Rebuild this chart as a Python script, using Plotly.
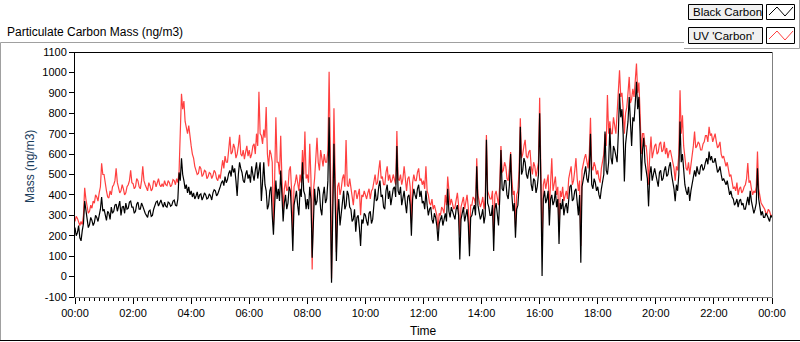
import plotly.graph_objects as go
import pandas as pd

# ---------------- data (2.5-minute readings, 00:00 .. 24:00) ----------------
START = "2000-01-01 00:00"
STEP = "150s"

BLACK_CARBON = [
    240, 200, 215, 250, 190, 175, 225, 260, 370, 330, 300, 240, 255, 290, 275, 250, 265, 300, 290, 270, 300, 330, 390, 320,
    330, 290, 275, 320, 310, 280, 340, 310, 320, 350, 355, 320, 340, 370, 300, 340, 345, 310, 360, 330, 335, 365, 370, 340,
    340, 310, 320, 355, 365, 330, 330, 360, 345, 320, 310, 300, 290, 320, 325, 295, 300, 330, 345, 365, 370, 345, 360, 375,
    355, 340, 365, 345, 340, 365, 360, 345, 350, 370, 375, 350, 345, 380, 510, 470, 580, 500, 470, 430, 450, 410, 440, 400,
    420, 390, 410, 380, 395, 415, 380, 400, 405, 375, 390, 410, 400, 380, 385, 405, 395, 375, 410, 425, 420, 395, 405, 430,
    440, 460, 470, 445, 490, 460, 475, 505, 520, 490, 545, 510, 530, 470, 395, 500, 560, 530, 510, 470, 460, 500, 520, 480,
    500, 460, 540, 500, 470, 520, 560, 480, 520, 560, 370, 480, 560, 450, 420, 330, 350, 420, 440, 300, 205, 350, 470, 380,
    430, 370, 520, 400, 270, 360, 400, 330, 360, 440, 420, 300, 125, 350, 380, 420, 350, 300, 430, 390, 560, 420, 400, 330,
    380, 330, 440, 380, 92, 300, 430, 350, 370, 440, 420, 330, 300, 400, 440, 360, 380, 470, 780, 400, -30, 300, 650, 380,
    76, 300, 380, 250, 300, 380, 420, 330, 350, 420, 400, 340, 330, 270, 280, 330, 220, 290, 300, 240, 150, 280, 260, 310,
    300, 270, 250, 310, 320, 260, 280, 350, 430, 370, 380, 440, 470, 390, 400, 340, 330, 420, 450, 380, 420, 350, 390, 430,
    440, 390, 640, 420, 400, 440, 350, 400, 420, 360, 310, 390, 400, 350, 200, 380, 430, 400, 380, 430, 450, 390, 420, 360,
    370, 330, 420, 350, 300, 330, 340, 280, 260, 310, 290, 250, 175, 260, 280, 300, 250, 290, 310, 270, 430, 320, 290, 340,
    320, 290, 280, 330, 350, 300, 84, 280, 310, 340, 270, 300, 330, 260, 100, 290, 300, 330, 350, 300, 540, 350, 320, 280,
    300, 330, 260, 300, 670, 360, 340, 300, 300, 350, 125, 330, 360, 300, 250, 380, 620, 430, 420, 470, 470, 400, 380, 450,
    600, 400, 320, 360, 190, 330, 350, 440, 734, 500, 520, 580, 560, 500, 480, 520, 540, 450, 420, 480, 470, 410, 440, 500,
    800, 450, 3, 380, 420, 360, 380, 420, 250, 380, 400, 350, 370, 420, 340, 380, 160, 360, 330, 380, 300, 340, 360, 310,
    400, 440, 450, 370, 380, 420, 430, 380, 300, 400, 68, 440, 480, 510, 540, 480, 460, 520, 700, 450, 430, 480, 460, 420,
    440, 400, 380, 430, 470, 500, 710, 520, 500, 560, 726, 580, 550, 640, 620, 580, 560, 700, 897, 780, 820, 700, 466, 650,
    700, 760, 880, 720, 640, 780, 760, 850, 954, 820, 880, 700, 470, 620, 680, 560, 520, 480, 344, 500, 540, 470, 500, 530,
    500, 470, 440, 510, 520, 470, 480, 520, 540, 490, 500, 540, 560, 500, 470, 430, 369, 450, 420, 500, 760, 560, 600, 520,
    450, 420, 400, 440, 370, 420, 460, 500, 520, 490, 540, 510, 500, 540, 550, 520, 530, 560, 580, 550, 612, 570, 590, 560,
    560, 580, 540, 510, 520, 540, 500, 470, 480, 460, 450, 470, 430, 400, 420, 390, 380, 350, 360, 380, 340, 370, 380, 350,
    360, 330, 330, 360, 390, 350, 420, 370, 340, 310, 330, 360, 530, 380, 340, 300, 320, 290, 290, 310, 300, 280, 270, 300,
    290,
]

UV_CARBON = [
    270, 295, 285, 260, 250, 270, 255, 300, 435, 380, 345, 310, 320, 350, 335, 370, 360, 400, 390, 370, 410, 440, 555, 500,
    500, 450, 420, 390, 385, 420, 400, 440, 450, 470, 530, 460, 440, 410, 420, 450, 430, 400, 410, 440, 450, 470, 520, 460,
    455, 430, 440, 480, 470, 440, 430, 470, 540, 470, 450, 430, 420, 460, 445, 420, 430, 470, 465, 440, 460, 480, 450, 440,
    455, 440, 470, 450, 445, 470, 460, 440, 450, 475, 470, 450, 480, 460, 515, 700, 895, 820, 860, 760, 730, 700, 740, 680,
    640, 600, 580, 540, 520, 500, 505, 540, 530, 490, 500, 520, 515, 480, 490, 510, 505, 480, 495, 520, 510, 480, 470, 500,
    480, 540, 570, 530, 590, 560, 560, 620, 685, 600, 610, 650, 630, 580, 600, 640, 695, 600, 590, 620, 575, 610, 640, 590,
    620, 580, 600, 640, 650, 600, 700, 640, 905, 700, 690, 650, 720, 680, 830, 600, 540, 620, 600, 560, 250, 480, 780, 560,
    560, 500, 690, 480, 330, 430, 470, 420, 430, 520, 540, 420, 200, 440, 460, 500, 450, 420, 500, 460, 620, 500, 710, 480,
    500, 460, 650, 480, 35, 420, 480, 560, 680, 560, 520, 620, 580, 540, 600, 560, 560, 620, 1003, 620, -10, 480, 825, 500,
    120, 440, 460, 400, 430, 480, 500, 440, 669, 450, 440, 480, 430, 400, 350, 420, 420, 380, 400, 430, 300, 400, 390, 420,
    400, 380, 410, 430, 380, 420, 430, 480, 500, 450, 460, 520, 570, 480, 490, 450, 450, 510, 540, 470, 500, 460, 470, 500,
    480, 450, 713, 480, 470, 500, 450, 480, 540, 460, 420, 480, 490, 440, 260, 460, 500, 470, 470, 510, 530, 470, 480, 450,
    470, 430, 540, 420, 400, 360, 350, 380, 330, 350, 320, 300, 230, 310, 300, 340, 330, 310, 400, 350, 490, 400, 350, 380,
    360, 330, 340, 380, 410, 350, 200, 340, 360, 390, 330, 360, 400, 340, 160, 350, 350, 390, 380, 350, 580, 400, 370, 340,
    360, 390, 330, 380, 694, 420, 400, 380, 380, 420, 200, 400, 420, 380, 350, 450, 640, 510, 520, 560, 540, 480, 470, 530,
    610, 480, 400, 420, 240, 400, 420, 520, 775, 580, 600, 640, 670, 590, 580, 610, 620, 540, 500, 560, 540, 490, 520, 560,
    876, 500, 150, 450, 480, 430, 460, 500, 330, 450, 580, 420, 470, 490, 400, 440, 220, 420, 390, 440, 370, 400, 420, 380,
    480, 510, 540, 450, 470, 520, 580, 480, 420, 470, 150, 520, 560, 580, 600, 550, 530, 600, 778, 540, 520, 560, 540, 500,
    520, 480, 460, 530, 560, 600, 700, 640, 889, 700, 760, 700, 700, 780, 740, 700, 800, 900, 1011, 880, 900, 820, 700, 800,
    830, 900, 978, 850, 870, 920, 880, 960, 1043, 900, 950, 800, 600, 700, 700, 640, 640, 580, 450, 600, 686, 580, 610, 640,
    650, 600, 610, 650, 660, 610, 620, 660, 600, 630, 580, 610, 620, 580, 560, 530, 470, 540, 520, 600, 913, 700, 790, 640,
    560, 530, 520, 560, 500, 540, 600, 640, 710, 630, 640, 660, 650, 620, 620, 650, 660, 690, 690, 660, 734, 690, 700, 660,
    680, 700, 660, 630, 640, 660, 600, 580, 590, 560, 540, 560, 530, 490, 500, 470, 430, 440, 420, 460, 400, 430, 440, 410,
    420, 440, 450, 480, 556, 460, 470, 430, 400, 420, 410, 440, 612, 430, 390, 360, 350, 340, 330, 310, 310, 330, 320, 300,
    300,
]

X_TICK_LABELS = ["00:00", "02:00", "04:00", "06:00", "08:00", "10:00", "12:00",
                 "14:00", "16:00", "18:00", "20:00", "22:00", "00:00"]
Y_TICKS = [-100, 0, 100, 200, 300, 400, 500, 600, 700, 800, 900, 1000, 1100]

TITLE = "Particulate Carbon Mass (ng/m3)"
Y_TITLE = "Mass (ng/m3)"
X_TITLE = "Time"
SERIES_NAMES = ["Black Carbon", "UV 'Carbon'"]

assert len(BLACK_CARBON) == len(UV_CARBON)

# ---------------- layout geometry ----------------
W, H = 800, 342
L, R, T, B = 75, 28, 52, 45
PW, PH = W - L - R, H - T - B


def px(x):
    return (x - L) / PW


def py(y):
    return (H - B - y) / PH


times = pd.date_range(START, periods=len(BLACK_CARBON), freq=STEP)
t0 = times[0]
t_end = t0 + pd.Timedelta(hours=24)
tickvals = [t0 + pd.Timedelta(hours=2 * i) for i in range(len(X_TICK_LABELS))]

RED = "#ff4040"
FONT = "Liberation Sans"

fig = go.Figure()
fig.add_trace(go.Scatter(x=times, y=UV_CARBON, mode="lines", name=SERIES_NAMES[1],
                         line=dict(color=RED, width=1.2), hoverinfo="skip"))
fig.add_trace(go.Scatter(x=times, y=BLACK_CARBON, mode="lines", name=SERIES_NAMES[0],
                         line=dict(color="black", width=1.2), hoverinfo="skip"))

fig.update_layout(
    width=W, height=H,
    margin=dict(l=L, r=R, t=T, b=B, pad=0),
    paper_bgcolor="white", plot_bgcolor="white",
    showlegend=False,
    font=dict(family=FONT, size=12, color="black"),
    xaxis=dict(
        type="date", range=[t0, t_end],
        tickmode="array", tickvals=tickvals, ticktext=X_TICK_LABELS,
        ticks="outside", ticklen=6, tickcolor="black", tickwidth=1,
        showline=True, linecolor="#808080", linewidth=1,
        showgrid=False, zeroline=False,
        tickfont=dict(family=FONT, size=11, color="black"),
        minor=dict(tickmode="linear", tick0=t0, dtick=600000, ticks="outside",
                   ticklen=3, tickcolor="black", showgrid=False),
    ),
    yaxis=dict(
        range=[-100, 1100],
        tickmode="array", tickvals=Y_TICKS, ticktext=[str(v) for v in Y_TICKS],
        ticks="outside", ticklen=5, tickcolor="black", tickwidth=1,
        showline=True, linecolor="black", linewidth=1,
        showgrid=False, zeroline=False,
        tickfont=dict(family=FONT, size=11, color="black"),
    ),
)

shapes = []


def line(x0, y0, x1, y1, color, width=1):
    shapes.append(dict(type="line", xref="paper", yref="paper",
                       x0=px(x0), y0=py(y0), x1=px(x1), y1=py(y1),
                       line=dict(color=color, width=width), layer="above"))


def rect(x0, y0, x1, y1, fill, color="black"):
    shapes.append(dict(type="rect", xref="paper", yref="paper",
                       x0=px(x0), y0=py(y0), x1=px(x1), y1=py(y1),
                       fillcolor=fill, line=dict(color=color, width=1), layer="above"))


def path(points, color):
    d = "M " + " L ".join(f"{px(x)},{py(y)}" for x, y in points)
    shapes.append(dict(type="path", xref="paper", yref="paper", path=d,
                       line=dict(color=color, width=1), layer="above"))


# plot frame: top black, right gray
line(74.5, 52.5, 772.5, 52.5, "black")
line(772.5, 52.5, 772.5, 297.5, "#808080")

# outer frame
line(0.5, 42.5, 684, 42.5, "#a0a0a0")
line(0.5, 42.5, 0.5, 340.5, "#a0a0a0")
line(0, 340.5, 800, 340.5, "black")
line(684, 48.5, 799.5, 48.5, "#a0a0a0")
line(799.5, 0, 799.5, 48.5, "#a0a0a0")

# legend boxes
rect(688.5, 4.5, 762.5, 19.5, "#f0f0f0")
rect(766.5, 4.5, 794.5, 19.5, "white")
rect(688.5, 27.5, 762.5, 43.5, "#f0f0f0")
rect(766.5, 27.5, 794.5, 43.5, "white")
path([(769, 15), (777, 7), (785, 16), (793, 7)], "black")
path([(769, 39), (777, 31), (785, 40), (793, 31)], RED)

fig.update_layout(shapes=shapes)

ann = [
    dict(text=TITLE, x=px(5), y=py(32), xanchor="left", yanchor="middle",
         font=dict(family=FONT, size=12, color="black")),
    dict(text=Y_TITLE, x=px(30), y=py(167), xanchor="center", yanchor="middle",
         textangle=-90, font=dict(family=FONT, size=12, color="#1a3d5c")),
    dict(text=X_TITLE, x=px(423), y=py(331), xanchor="center", yanchor="middle",
         font=dict(family=FONT, size=12, color="black")),
    dict(text=SERIES_NAMES[0], x=px(691), y=py(12), xanchor="left", yanchor="middle",
         font=dict(family=FONT, size=11.5, color="black")),
    dict(text=SERIES_NAMES[1], x=px(691), y=py(35.5), xanchor="left", yanchor="middle",
         font=dict(family=FONT, size=11.5, color="black")),
]
for a in ann:
    a.update(xref="paper", yref="paper", showarrow=False)
fig.update_layout(annotations=ann)

fig.write_html("out.html", config={"displayModeBar": False, "staticPlot": True},
               post_script="document.body.style.margin='0px';")
